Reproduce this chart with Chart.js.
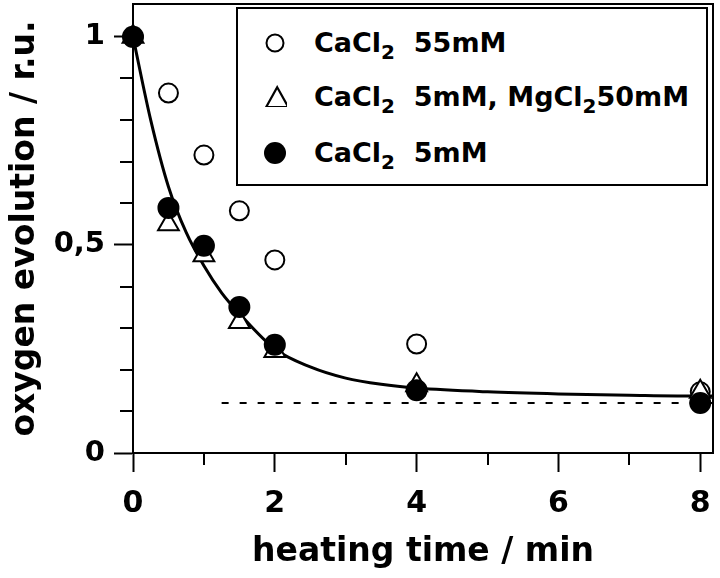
<!DOCTYPE html>
<html>
<head>
<meta charset="utf-8">
<script src="https://cdn.jsdelivr.net/npm/chart.js@4/dist/chart.umd.min.js"></script>
<style>
  html, body { margin: 0; padding: 0; background: #fff; }
  #wrap { position: relative; width: 720px; height: 578px; }
  #legend {
    position: absolute; left: 236px; top: 7px; width: 468px; height: 175px;
    border: 2px solid #000; background: #fff;
    font-family: "DejaVu Sans", Verdana, sans-serif; font-weight: bold; font-size: 27px; color: #000;
  }
  .row { position: absolute; left: 0; height: 30px; line-height: 30px; white-space: nowrap; }
  .row .txt { position: absolute; left: 76px; top: 0; }
  .row sub { font-size: 20px; vertical-align: -7px; line-height: 0; }
  .sym { position: absolute; left: 27px; top: 5px; width: 20px; height: 20px; }
</style>
</head>
<body>
<div id="wrap">
  <canvas id="chart" width="720" height="578"></canvas>
  <div id="legend">
    <div class="row" style="top:19px">
      <svg class="sym" viewBox="0 0 20 20"><circle cx="10" cy="10" r="8.5" fill="#fff" stroke="#000" stroke-width="2"/></svg>
      <span class="txt">CaCl<sub>2</sub>&nbsp; 55mM</span>
    </div>
    <div class="row" style="top:73px">
      <svg class="sym" viewBox="0 0 20 20" style="top:3px;width:24px;height:22px;left:25px"><polygon points="12,2 22,20 2,20" fill="#fff" stroke="#000" stroke-width="2"/></svg>
      <span class="txt">CaCl<sub>2</sub>&nbsp; 5mM, MgCl<sub>2</sub>50mM</span>
    </div>
    <div class="row" style="top:129px">
      <svg class="sym" viewBox="0 0 20 20" style="width:22px;height:22px;left:26px;top:4px"><circle cx="10" cy="10" r="10" fill="#000"/></svg>
      <span class="txt">CaCl<sub>2</sub>&nbsp; 5mM</span>
    </div>
  </div>
</div>
<script>
// measured points (heating time in min)
const timeMin = [0, 0.5, 1, 1.5, 2, 4, 8];
const cacl55 = [1.0, 0.865, 0.716, 0.582, 0.464, 0.262, 0.147];
const cacl5Mg50 = [1.0, 0.55, 0.475, 0.315, 0.245, 0.163, 0.147];
const cacl5 = [1.0, 0.589, 0.498, 0.351, 0.26, 0.151, 0.12];

// fitted curve
const fitTime = [0, 0.25, 0.5, 0.75, 1, 1.25, 1.5, 2, 2.5, 3, 3.5, 4, 5, 6, 7, 8, 8.18];
const fitValue = [1.0, 0.8, 0.64, 0.53, 0.45, 0.385, 0.335, 0.25, 0.207, 0.18, 0.165, 0.156, 0.147, 0.142, 0.139, 0.137, 0.137];

// dashed baseline
const dashTime = [1.25, 8.18];
const dashValue = [0.12, 0.12];

const xTicks = [0, 2, 4, 6, 8];
const xMinorTicks = [1, 3, 5, 7];
const yTicks = [0, 0.5, 1];
const yTickLabels = ['0', '0,5', '1'];
const yMinorTicks = [0.1, 0.2, 0.3, 0.4, 0.6, 0.7, 0.8, 0.9];

const toPoints = (xs, ys) => xs.map((x, i) => ({ x: x, y: ys[i] }));

const fontFamily = '"DejaVu Sans", Verdana, sans-serif';

// frame around plot + minor ticks
const framePlugin = {
    id: 'frame',
    afterDraw(chart) {
        const ctx = chart.ctx;
        const a = chart.chartArea;
        const xs = chart.scales.x;
        const ys = chart.scales.y;
        ctx.save();
        ctx.strokeStyle = '#000';
        ctx.lineWidth = 2;
        ctx.strokeRect(a.left, a.top, a.right - a.left, a.bottom - a.top);
        ctx.beginPath();
        xMinorTicks.forEach(v => {
            const px = Math.round(xs.getPixelForValue(v));
            ctx.moveTo(px, a.bottom);
            ctx.lineTo(px, a.bottom + 12);
        });
        yMinorTicks.forEach(v => {
            const py = Math.round(ys.getPixelForValue(v));
            ctx.moveTo(a.left - 13, py);
            ctx.lineTo(a.left, py);
        });
        ctx.stroke();
        ctx.restore();
    }
};

const ctx = document.getElementById('chart').getContext('2d');
const chart = new Chart(ctx, {
    type: 'scatter',
    data: {
        datasets: [
            {
                label: 'CaCl2 5mM',
                data: toPoints(timeMin, cacl5),
                pointStyle: 'circle',
                pointRadius: 11,
                backgroundColor: '#000',
                borderColor: '#000',
                borderWidth: 0,
                clip: false,
                order: 1
            },
            {
                label: 'CaCl2 5mM, MgCl2 50mM',
                data: toPoints(timeMin, cacl5Mg50),
                pointStyle: 'triangle',
                pointRadius: 12,
                backgroundColor: '#fff',
                borderColor: '#000',
                borderWidth: 2,
                clip: false,
                order: 2
            },
            {
                label: 'CaCl2 55mM',
                data: toPoints(timeMin, cacl55),
                pointStyle: 'circle',
                pointRadius: 9.5,
                backgroundColor: '#fff',
                borderColor: '#000',
                borderWidth: 2,
                clip: false,
                order: 3
            },
            {
                label: 'fit',
                type: 'line',
                data: toPoints(fitTime, fitValue),
                borderColor: '#000',
                borderWidth: 3,
                pointRadius: 0,
                cubicInterpolationMode: 'monotone',
                fill: false,
                clip: false,
                order: 4
            },
            {
                label: 'baseline',
                type: 'line',
                data: toPoints(dashTime, dashValue),
                borderColor: '#000',
                borderWidth: 2,
                borderDash: [7, 11],
                pointRadius: 0,
                fill: false,
                order: 5
            }
        ]
    },
    options: {
        responsive: false,
        animation: false,
        layout: { autoPadding: false, padding: { top: 4, right: 7, left: 0, bottom: 0 } },
        plugins: {
            legend: { display: false },
            tooltip: { enabled: false }
        },
        scales: {
            x: {
                type: 'linear',
                min: 0,
                max: 8.18,
                afterFit: s => { s.height = 125; s.paddingLeft = 0; s.paddingRight = 0; },
                afterBuildTicks: s => { s.ticks = xTicks.map(v => ({ value: v })); },
                border: { display: true, color: '#000', width: 2 },
                grid: { drawOnChartArea: false, drawTicks: true, tickLength: 19, tickColor: '#000', tickWidth: 2 },
                ticks: {
                    color: '#000',
                    padding: 14,
                    maxRotation: 0,
                    font: { family: fontFamily, size: 30, weight: 'bold' }
                },
                title: {
                    display: true,
                    text: 'heating time / min',
                    color: '#000',
                    padding: { top: 0, bottom: 6 },
                    font: { family: fontFamily, size: 33, weight: 'bold' }
                }
            },
            y: {
                type: 'linear',
                min: 0,
                max: 1.079,
                afterFit: s => { s.width = 133; s.paddingTop = 0; s.paddingBottom = 0; },
                afterBuildTicks: s => { s.ticks = yTicks.map(v => ({ value: v })); },
                border: { display: true, color: '#000', width: 2 },
                grid: { drawOnChartArea: false, drawTicks: true, tickLength: 19, tickColor: '#000', tickWidth: 2 },
                ticks: {
                    color: '#000',
                    padding: 9,
                    font: { family: fontFamily, size: 29, weight: 'bold' },
                    callback: (v) => {
                        const i = yTicks.indexOf(v);
                        return i >= 0 ? yTickLabels[i] : '';
                    }
                },
                title: {
                    display: true,
                    text: 'oxygen evolution / r.u.',
                    color: '#000',
                    padding: { top: 6, bottom: 0 },
                    font: { family: fontFamily, size: 33, weight: 'bold' }
                }
            }
        }
    },
    plugins: [framePlugin]
});
</script>
</body>
</html>
